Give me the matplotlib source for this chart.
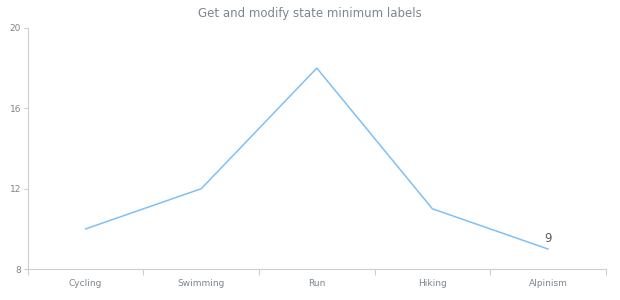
import numpy as np
import matplotlib.pyplot as plt

categories = ['Cycling', 'Swimming', 'Run', 'Hiking', 'Alpinism']
values = [10, 12, 18, 11, 9]
y_ticks = [8, 12, 16, 20]

grey = '#7c868e'
axis_col = '#cecece'

fig = plt.figure(figsize=(6.2, 3.0), dpi=100)
ax = fig.add_axes([0.045, 0.103, 0.932, 0.804])

x = np.arange(len(categories))
ax.plot(x, values, color='#7fc1f4', lw=1.1)

# label the minimum point
imin = int(np.argmin(values))
ax.annotate(str(values[imin]), (x[imin], values[imin]), xytext=(0, 3),
            textcoords='offset points', ha='center', va='bottom',
            fontsize=8.5, color='#545f69')

ax.set_xlim(-0.5, len(categories) - 0.5)
ax.set_ylim(8, 20)
ax.set_yticks(y_ticks)
ax.set_xticks(x)
ax.set_xticklabels(categories)
ax.set_xticks(np.arange(-0.5, len(categories)), minor=True)
ax.tick_params(axis='x', which='major', length=0, pad=7, labelsize=6.5, labelcolor=grey)
ax.tick_params(axis='x', which='minor', length=4, color=axis_col, width=0.8)
ax.tick_params(axis='y', length=3, color=axis_col, width=0.8, labelsize=6.5, labelcolor=grey, pad=2)

for s in ['top', 'right']:
    ax.spines[s].set_visible(False)
for s in ['left', 'bottom']:
    ax.spines[s].set_color(axis_col)
    ax.spines[s].set_linewidth(0.8)

fig.text(0.5, 0.955, 'Get and modify state minimum labels', ha='center', va='center',
         fontsize=8.5, color=grey)

fig.savefig('out.png', dpi=100)
